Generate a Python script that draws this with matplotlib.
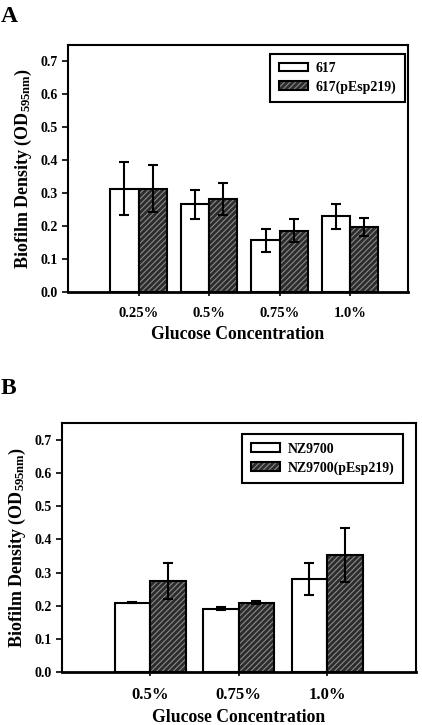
import matplotlib
matplotlib.use('Agg')
import matplotlib.pyplot as plt
from matplotlib.patches import Patch
import numpy as np

plt.rcParams['font.family'] = ['Liberation Serif', 'DejaVu Serif']
plt.rcParams['font.weight'] = 'bold'
plt.rcParams['mathtext.fontset'] = 'custom'
plt.rcParams['mathtext.rm'] = 'Liberation Serif:bold'
plt.rcParams['mathtext.bf'] = 'Liberation Serif:bold'
plt.rcParams['mathtext.it'] = 'Liberation Serif:bold'
plt.rcParams['hatch.linewidth'] = 0.8

# panel A data
a_labels = ['0.25%', '0.5%', '0.75%', '1.0%']
a_names = ['617', '617(pEsp219)']
a_plain = [0.314, 0.267, 0.158, 0.231]
a_plain_err = [0.080, 0.044, 0.035, 0.038]
a_plasmid = [0.314, 0.282, 0.186, 0.197]
a_plasmid_err = [0.072, 0.048, 0.035, 0.027]

# panel B data
b_labels = ['0.5%', '0.75%', '1.0%']
b_names = ['NZ9700', 'NZ9700(pEsp219)']
b_plain = [0.209, 0.191, 0.281]
b_plain_err = [0.002, 0.004, 0.049]
b_plasmid = [0.275, 0.209, 0.354]
b_plasmid_err = [0.055, 0.005, 0.082]

W = 0.4
HATCH_FACE = '#2c2c2c'
HATCH_LINE = '#8a8a8a'


def draw_panel(ax, labels, plain, plain_err, plasmid, plasmid_err, names,
               xmax, tick_size, leg_anchor):
    x = np.arange(1, len(labels) + 1)
    ax.bar(x - W / 2, plain, W, color='white', edgecolor='black', linewidth=1.5)
    ax.bar(x + W / 2, plasmid, W, color=HATCH_FACE, edgecolor=HATCH_LINE,
           hatch='//////', linewidth=0)
    ax.bar(x + W / 2, plasmid, W, fill=False, edgecolor='black', linewidth=1.5)
    ax.errorbar(x - W / 2, plain, yerr=plain_err, fmt='none', ecolor='black',
                elinewidth=1.5, capsize=3.5, capthick=1.5)
    ax.errorbar(x + W / 2, plasmid, yerr=plasmid_err, fmt='none', ecolor='black',
                elinewidth=1.5, capsize=3.5, capthick=1.5)

    ax.set_xlim(0, xmax)
    ax.set_ylim(0, 0.75)
    yt = np.arange(0, 0.71, 0.1)
    ax.set_yticks(yt)
    ax.set_yticklabels([f'{v:.1f}' for v in yt], fontsize=10)
    ax.set_xticks(x)
    ax.set_xticklabels(labels, fontsize=tick_size)
    ax.tick_params(axis='y', direction='out', length=4, width=1.2, pad=3)
    ax.tick_params(axis='x', direction='out', length=3, width=1.2, pad=8)
    for s in ax.spines.values():
        s.set_linewidth(1.5)
    ax.spines['bottom'].set_linewidth(2)

    ax.set_xlabel('Glucose Concentration', fontsize=12.7, fontweight='bold', labelpad=4)
    ax.set_ylabel(r'Biofilm Density (OD$_{\mathbf{595nm}}$)', fontsize=13,
                  fontweight='bold', labelpad=5)

    h1 = Patch(facecolor='white', edgecolor='black', linewidth=1.5)
    h2a = Patch(facecolor=HATCH_FACE, edgecolor=HATCH_LINE, hatch='//////', linewidth=0)
    h2b = Patch(fill=False, edgecolor='black', linewidth=1.5)
    leg = ax.legend([h1, (h2a, h2b)], names, loc='upper right',
                    bbox_to_anchor=leg_anchor, borderaxespad=0, fancybox=False,
                    edgecolor='black', framealpha=1, fontsize=10,
                    handlelength=2.1, handleheight=0.6, handletextpad=0.55,
                    labelspacing=0.4, borderpad=0.6)
    leg.get_frame().set_linewidth(1.5)


fig = plt.figure(figsize=(4.22, 7.25), dpi=100)

ax_a = fig.add_axes([0.161, 0.597, 0.806, 0.341])
draw_panel(ax_a, a_labels, a_plain, a_plain_err, a_plasmid, a_plasmid_err, a_names,
           4.82, 10.5, (0.99, 0.965))

ax_b = fig.add_axes([0.146, 0.073, 0.839, 0.343])
draw_panel(ax_b, b_labels, b_plain, b_plain_err, b_plasmid, b_plasmid_err, b_names,
           4.0, 12, (0.963, 0.956))

fig.text(0.002, 0.992, 'A', fontsize=17, fontweight='bold', va='top', ha='left')
fig.text(0.002, 0.478, 'B', fontsize=17, fontweight='bold', va='top', ha='left')

fig.savefig('out.png', dpi=100)
